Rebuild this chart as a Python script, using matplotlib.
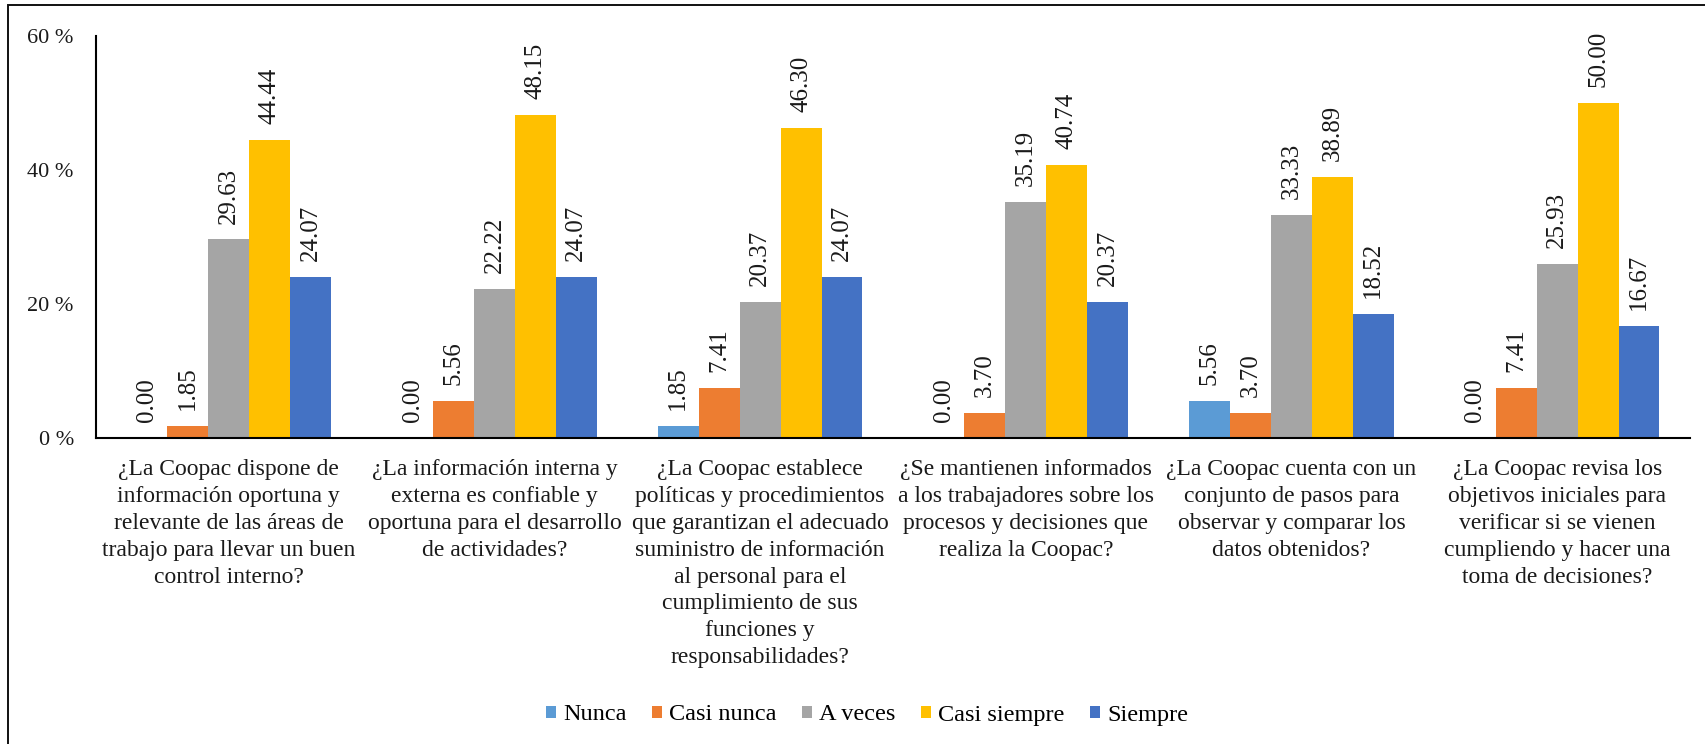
import matplotlib.pyplot as plt
import numpy as np
from matplotlib.patches import Rectangle, Patch
from matplotlib.ticker import FuncFormatter

plt.rcParams['font.family'] = ['Liberation Serif', 'DejaVu Serif']

# data
questions = [
    "¿La Coopac dispone de\ninformación oportuna y\nrelevante de las áreas de\ntrabajo para llevar un buen\ncontrol interno?",
    "¿La información interna y\nexterna es confiable y\noportuna para el desarrollo\nde actividades?",
    "¿La Coopac establece\npolíticas y procedimientos\nque garantizan el adecuado\nsuministro de información\nal personal para el\ncumplimiento de sus\nfunciones y\nresponsabilidades?",
    "¿Se mantienen informados\na los trabajadores sobre los\nprocesos y decisiones que\nrealiza la Coopac?",
    "¿La Coopac cuenta con un\nconjunto de pasos para\nobservar y comparar los\ndatos obtenidos?",
    "¿La Coopac revisa los\nobjetivos iniciales para\nverificar si se vienen\ncumpliendo y hacer una\ntoma de decisiones?",
]
series_names = ["Nunca", "Casi nunca", "A veces", "Casi siempre", "Siempre"]
nunca = [0.00, 0.00, 1.85, 0.00, 5.56, 0.00]
casi_nunca = [1.85, 5.56, 7.41, 3.70, 3.70, 7.41]
a_veces = [29.63, 22.22, 20.37, 35.19, 33.33, 25.93]
casi_siempre = [44.44, 48.15, 46.30, 40.74, 38.89, 50.00]
siempre = [24.07, 24.07, 24.07, 20.37, 18.52, 16.67]
series = [nunca, casi_nunca, a_veces, casi_siempre, siempre]
colors = ["#5B9BD5", "#ED7D31", "#A5A5A5", "#FFC000", "#4472C4"]

W, H, dpi = 1706, 744, 100
fig = plt.figure(figsize=(W / dpi, H / dpi), dpi=dpi)
ax = fig.add_axes([96 / W, 1 - 438 / H, (1690 - 96) / W, (438 - 36) / H])

x = np.arange(len(questions))
bw = 0.154
for i, (vals, col) in enumerate(zip(series, colors)):
    pos = x + (i - 2) * bw
    ax.bar(pos, vals, width=bw, color=col, label=series_names[i])
    for px, v in zip(pos, vals):
        ax.annotate(f"{v:.2f}", (px, v), xytext=(0, 11.5), textcoords='offset points',
                    rotation=90, ha='center', va='bottom', fontsize=18, color='#1a1a1a')

ax.set_xlim(-0.5, len(questions) - 0.5)
ax.set_ylim(0, 60)
ax.set_yticks([0, 20, 40, 60])
ax.yaxis.set_major_formatter(FuncFormatter(lambda v, p: f"{int(v)} %"))
ax.set_xticks(x)
ax.set_xticklabels(questions, fontsize=17, linespacing=1.37, color='#1a1a1a')
ax.tick_params(axis='y', length=0, pad=16, labelsize=16, labelcolor='#1a1a1a')
ax.tick_params(axis='x', length=0, pad=15)

for s in ['top', 'right']:
    ax.spines[s].set_visible(False)
for s in ['left', 'bottom']:
    ax.spines[s].set_linewidth(1.5)
    ax.spines[s].set_color('black')

handles = [Patch(facecolor=c, label=n) for c, n in zip(colors, series_names)]
fig.legend(handles=handles, loc='center', bbox_to_anchor=(867 / W, 1 - 715 / H), ncol=5,
           frameon=False, fontsize=17.5, handlelength=0.4, handleheight=0.4,
           handletextpad=0.3, columnspacing=1.05)

# outer frame of the chart area
fig.patches.append(Rectangle((8 / W, -0.1), 1.2, 1.1 - 4.5 / H, transform=fig.transFigure,
                             fill=False, edgecolor='#111111', linewidth=1.4))

fig.savefig("out.png", dpi=dpi)
